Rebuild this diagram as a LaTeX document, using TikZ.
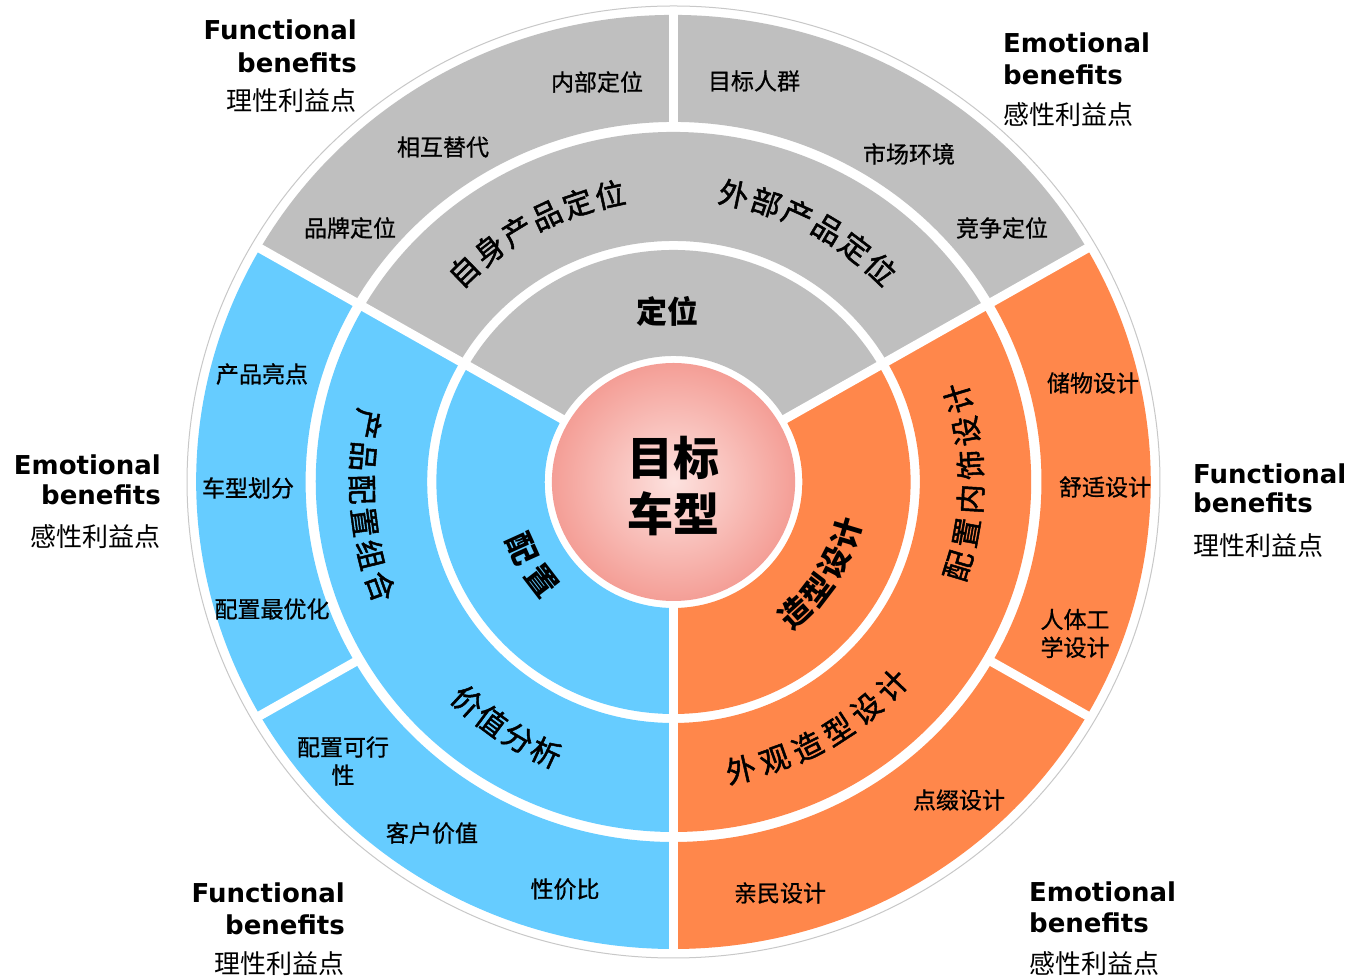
\documentclass[tikz,border=0pt]{standalone}
\usepackage{fontspec}
\setmainfont{DejaVu Sans}
\newfontfamily\cjk{Noto Sans CJK SC}
\newfontfamily\cjkmed{Noto Sans CJK SC}[FakeBold=0.8]
\newfontfamily\cjksemi{Noto Sans CJK SC}[FakeBold=1.6]
\newfontfamily\en{DejaVu Sans}
\definecolor{greyc}{RGB}{191,191,191}
\definecolor{bluec}{RGB}{102,204,255}
\definecolor{orangec}{RGB}{255,135,75}
\definecolor{pinkin}{RGB}{253,226,223}
\definecolor{pinkout}{RGB}{244,158,150}
\definecolor{outl}{RGB}{200,200,200}
\newcommand\ringpart[5]{\fill[#1] (#2:#5) arc[start angle=#2,end angle=#3,radius=#5] -- (#3:#4) arc[start angle=#3,end angle=#2,radius=#4] -- cycle;}
\tikzset{
  outerlbl/.style={font=\cjkmed\fontsize{23}{28}\selectfont, inner sep=0pt, align=center},
  midlbl/.style={font=\cjksemi\fontsize{30}{36}\selectfont, inner sep=0pt},
  inlbl/.style={font=\cjk\bfseries\fontsize{31}{36}\selectfont, inner sep=0pt},
  centerlbl/.style={font=\cjk\bfseries\fontsize{46}{56}\selectfont, inner sep=0pt, align=center},
  benen/.style={font=\en\bfseries\fontsize{26}{30}\selectfont, inner sep=0pt},
  bencn/.style={font=\cjk\fontsize{26}{30}\selectfont, inner sep=0pt},
  gapline/.style={draw=white, line width=9pt},
  outline/.style={draw=outl, line width=1pt}
}
\begin{document}
\begin{tikzpicture}[x=1pt,y=1pt]
\fill[white] (0,0) rectangle (1354,979);
\useasboundingbox (0,0) rectangle (1354,979);
\coordinate (C) at (673.5,497);
\begin{scope}[shift={(673.5,497)}, xscale=1.022]
  \draw[outline] (0,0) circle[radius=476];
  % inner ring
  \ringpart{greyc}{30}{150}{126}{232}
  \ringpart{bluec}{150}{270}{126}{232}
  \ringpart{orangec}{270}{390}{126}{232}
  % middle ring
  \ringpart{greyc}{30}{150}{241}{350}
  \ringpart{bluec}{150}{270}{241}{350}
  \ringpart{orangec}{270}{390}{241}{350}
  % outer ring
  \ringpart{greyc}{30}{150}{360}{467}
  \ringpart{bluec}{150}{270}{360}{467}
  \ringpart{orangec}{270}{390}{360}{467}
  % gaps
  \foreach \a in {30,150,270} \draw[gapline] (\a:112) -- (\a:471);
  \foreach \a in {90,210,330} \draw[gapline] (\a:352) -- (\a:471);
  % centre disc
  \shade[inner color=pinkin, outer color=pinkout] (0,0) circle[radius=119];
\end{scope}
% centre text
\node[centerlbl] (target) at (673,493) {目标\\车型};
% inner ring labels
\node[inlbl] (pos) at (667,668) {定位};
\foreach \ch [count=\i from 0] in {配,置}{
  \pgfmathsetmacro\ang{204.3+13.2*\i}
  \node[inlbl, rotate=\ang+90] (cfgin\i) at ({673.5+1.022*162.5*cos(\ang)},{497+162.5*sin(\ang)}) {\ch};
}
\foreach \ch [count=\i from 0] in {造,型,设,计}{
  \pgfmathsetmacro\ang{312.3+10.33*\i}
  \node[inlbl, rotate=\ang+90] (shapein\i) at ({673.5+1.022*177*cos(\ang)},{497+177*sin(\ang)}) {\ch};
}
% middle ring labels
\foreach \ch [count=\i from 0] in {自,身,产,品,定,位}{
  \pgfmathsetmacro\ang{134.2-6.4*\i}
  \node[midlbl, rotate=\ang-90] (own\i) at ({673.5+1.022*294*cos(\ang)},{497+294*sin(\ang)}) {\ch};
}
\foreach \ch [count=\i from 0] in {外,部,产,品,定,位}{
  \pgfmathsetmacro\ang{78.4-6.4*\i}
  \node[midlbl, rotate=\ang-90] (ext\i) at ({673.5+1.022*294*cos(\ang)},{497+294*sin(\ang)}) {\ch};
}
\foreach \ch [count=\i from 0] in {产,品,配,置,组,合}{
  \pgfmathsetmacro\ang{169+6.2*\i}
  \node[midlbl, rotate=\ang+90] (combo\i) at ({673.5+1.022*305*cos(\ang)},{497+305*sin(\ang)}) {\ch};
}
\foreach \ch [count=\i from 0] in {价,值,分,析}{
  \pgfmathsetmacro\ang{227.4+5.95*\i}
  \node[midlbl, rotate=\ang+90] (value\i) at ({673.5+1.022*298*cos(\ang)},{497+298*sin(\ang)}) {\ch};
}
\foreach \ch [count=\i from 0] in {外,观,造,型,设,计}{
  \pgfmathsetmacro\ang{282.9+6.72*\i}
  \node[midlbl, rotate=\ang+90] (look\i) at ({673.5+1.022*295*cos(\ang)},{497+295*sin(\ang)}) {\ch};
}
\foreach \ch [count=\i from 0] in {配,置,内,饰,设,计}{
  \pgfmathsetmacro\ang{343.25+6.7*\i}
  \node[midlbl, rotate=\ang+90] (trim\i) at ({673.5+1.022*291*cos(\ang)},{497+291*sin(\ang)}) {\ch};
}
% outer ring labels
\node[outerlbl] (o1) at (597,897) {内部定位};
\node[outerlbl] (o2) at (443,832) {相互替代};
\node[outerlbl] (o3) at (350,751) {品牌定位};
\node[outerlbl] (o4) at (754,898) {目标人群};
\node[outerlbl] (o5) at (909,825) {市场环境};
\node[outerlbl] (o6) at (1002,751) {竞争定位};
\node[outerlbl] (o7) at (262,605) {产品亮点};
\node[outerlbl] (o8) at (248,491) {车型划分};
\node[outerlbl] (o9) at (272,370) {配置最优化};
\node[outerlbl] (o10) at (343,218) {配置可行\\性};
\node[outerlbl] (o11) at (432,146) {客户价值};
\node[outerlbl] (o12) at (565,90) {性价比};
\node[outerlbl] (o13) at (1093,596) {储物设计};
\node[outerlbl] (o14) at (1105,492) {舒适设计};
\node[outerlbl] (o15) at (1075,345.5) {人体工\\学设计};
\node[outerlbl] (o16) at (959,179) {点缀设计};
\node[outerlbl] (o17) at (780,86) {亲民设计};
% benefit captions
\node[benen, anchor=base east] (b1a) at (357,939) {Functional};
\node[benen, anchor=base east] (b1b) at (357,906) {benefits};
\node[bencn, anchor=base east] (b1c) at (357,868) {理性利益点};
\node[benen, anchor=base west] (b2a) at (1003,926) {Emotional};
\node[benen, anchor=base west] (b2b) at (1003,894) {benefits};
\node[bencn, anchor=base west] (b2c) at (1003,854) {感性利益点};
\node[benen, anchor=base east] (b3a) at (161,504) {Emotional};
\node[benen, anchor=base east] (b3b) at (161,474) {benefits};
\node[bencn, anchor=base east] (b3c) at (161,432) {感性利益点};
\node[benen, anchor=base west] (b4a) at (1193,495) {Functional};
\node[benen, anchor=base west] (b4b) at (1193,466) {benefits};
\node[bencn, anchor=base west] (b4c) at (1193,423) {理性利益点};
\node[benen, anchor=base east] (b5a) at (345,76) {Functional};
\node[benen, anchor=base east] (b5b) at (345,44) {benefits};
\node[bencn, anchor=base east] (b5c) at (345,5) {理性利益点};
\node[benen, anchor=base west] (b6a) at (1029,77) {Emotional};
\node[benen, anchor=base west] (b6b) at (1029,46) {benefits};
\node[bencn, anchor=base west] (b6c) at (1029,5) {感性利益点};
\end{tikzpicture}
\end{document}
